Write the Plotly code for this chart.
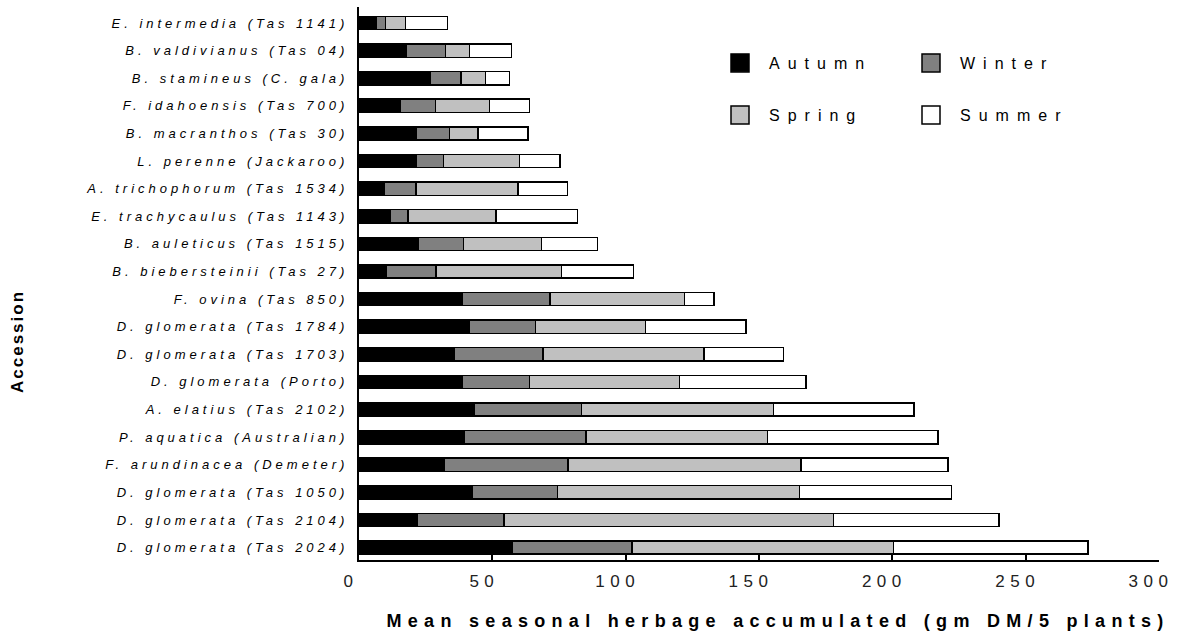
import plotly.graph_objects as go

# Accessions, listed top to bottom as in the chart
accessions = [
    "E. intermedia (Tas 1141)",
    "B. valdivianus (Tas 04)",
    "B. stamineus (C. gala)",
    "F. idahoensis (Tas 700)",
    "B. macranthos (Tas 30)",
    "L. perenne (Jackaroo)",
    "A. trichophorum (Tas 1534)",
    "E. trachycaulus (Tas 1143)",
    "B. auleticus (Tas 1515)",
    "B. biebersteinii (Tas 27)",
    "F. ovina (Tas 850)",
    "D. glomerata (Tas 1784)",
    "D. glomerata (Tas 1703)",
    "D. glomerata (Porto)",
    "A. elatius (Tas 2102)",
    "P. aquatica (Australian)",
    "F. arundinacea (Demeter)",
    "D. glomerata (Tas 1050)",
    "D. glomerata (Tas 2104)",
    "D. glomerata (Tas 2024)",
]

autumn = [6.3, 17.7, 26.8, 15.4, 21.4, 21.4, 9.5, 11.7, 22.1, 10.2,
          38.6, 41.5, 35.8, 38.9, 43.2, 39.3, 32.0, 42.6, 21.7, 57.6]
winter = [3.6, 14.7, 11.5, 13.2, 12.5, 10.3, 11.8, 6.6, 17.1, 18.7,
          33.0, 24.7, 33.2, 25.1, 40.2, 45.8, 46.4, 31.9, 32.6, 44.8]
spring = [7.5, 9.1, 9.2, 20.4, 10.8, 28.4, 38.3, 33.1, 29.3, 47.0,
          50.5, 41.3, 60.3, 56.2, 72.1, 68.1, 87.4, 90.6, 123.7, 98.1]
summer = [15.8, 15.6, 8.9, 15.0, 18.6, 15.3, 18.6, 30.6, 21.0, 27.1,
          11.0, 37.6, 29.9, 47.4, 52.6, 63.9, 55.1, 57.0, 62.0, 72.8]

season_names = ["Autumn", "Winter", "Spring", "Summer"]
season_values = [autumn, winter, spring, summer]
season_colors = ["#000000", "#808080", "#c0c0c0", "#ffffff"]
legend_ids = ["legend", "legend2", "legend3", "legend4"]

x_ticks = [0, 50, 100, 150, 200, 250, 300]
x_title = "Mean seasonal herbage accumulated (gm DM/5 plants)"
y_title = "Accession"

FONT = "Liberation Sans, Arial, sans-serif"

fig = go.Figure()
for name, vals, col, lg in zip(season_names, season_values, season_colors, legend_ids):
    fig.add_trace(go.Bar(
        y=accessions, x=vals, name=name, orientation="h",
        marker=dict(color=col, line=dict(color="#000000", width=1.5)),
        width=0.48, legend=lg, showlegend=True,
    ))

# plot area in pixels: x 359..1159.5, y 7..560
L, R, T, B = 359, 27, 7, 75
W, H = 1186, 635
pw, ph = W - L - R, H - T - B

def px_x(p):
    return (p - L) / pw

def px_y(p):
    return (H - B - p) / ph

leg_font = dict(family=FONT, size=16, color="#000000")
legend_common = dict(bgcolor="rgba(0,0,0,0)", borderwidth=0, font=leg_font,
                     itemwidth=48, xanchor="left", yanchor="middle",
                     orientation="v", visible=True)

fig.update_layout(
    width=W, height=H,
    margin=dict(l=L, r=R, t=T, b=B, pad=0),
    paper_bgcolor="#ffffff", plot_bgcolor="#ffffff",
    barmode="stack", bargap=0.5, showlegend=True,
    font=dict(family=FONT, color="#000000"),
    legend=dict(x=px_x(711), y=px_y(63), **legend_common),
    legend2=dict(x=px_x(902), y=px_y(63), **legend_common),
    legend3=dict(x=px_x(711), y=px_y(115), **legend_common),
    legend4=dict(x=px_x(902), y=px_y(115), **legend_common),
    xaxis=dict(
        range=[0, 300], tickvals=x_ticks, ticktext=[str(v) for v in x_ticks],
        ticks="inside", ticklen=5, tickwidth=1.5, tickcolor="#000000",
        showline=True, linecolor="#000000", linewidth=2,
        showgrid=False, zeroline=False,
        tickfont=dict(family=FONT, size=17, color="#222222"),
        ticklabelstandoff=5, ticklabelshift=-8,
    ),
    yaxis=dict(
        categoryorder="array", categoryarray=accessions[::-1],
        range=[-0.45, 19.58],
        showline=True, linecolor="#000000", linewidth=2,
        ticks="", showgrid=False, zeroline=False,
        tickfont=dict(family=FONT, size=13, color="#000000", style="italic"),
        ticklabelstandoff=6,
    ),
    annotations=[
        dict(text="<b>" + x_title + "</b>", xref="paper", yref="paper",
             x=px_x(778), y=px_y(621), xanchor="center", yanchor="middle",
             showarrow=False, font=dict(family=FONT, size=18, color="#000000")),
        dict(text="<b>" + y_title + "</b>", xref="paper", yref="paper",
             x=px_x(17), y=px_y(342), xanchor="center", yanchor="middle",
             textangle=-90, showarrow=False,
             font=dict(family=FONT, size=17, color="#000000")),
    ],
)

post = """
document.body.style.margin = '0px';
document.body.style.overflow = 'hidden';
var st = document.createElement('style');
st.textContent = ".ytick text{letter-spacing:4px;} " +
  ".xtick text{letter-spacing:5.5px;} " +
  "g.annotation[data-index='0'] text{letter-spacing:6.3px;} " +
  "g.annotation[data-index='1'] text{letter-spacing:2px;} " +
  ".legendpoints path{d:path('M9,9H-9V-9H9Z');}";
document.head.appendChild(st);
var gd = document.getElementById('{plot_id}');
var seasonNames = ['Autumn', 'Winter', 'Spring', 'Summer'];
function fixLegend() {
  gd.querySelectorAll('text').forEach(function(t) {
    if (seasonNames.indexOf((t.textContent || '').trim()) >= 0) {
      t.style.setProperty('letter-spacing', '8px', 'important');
    }
  });
  gd.querySelectorAll('[clip-path]').forEach(function(e) {
    var par = e.parentNode;
    var inLegend = false;
    while (par && par !== gd) {
      if (par.getAttribute && /(^|\\s)legend\\d*(\\s|$)/.test(par.getAttribute('class') || '')) { inLegend = true; break; }
      par = par.parentNode;
    }
    if (inLegend || /(^|\\s)legend\\d*(\\s|$)/.test(e.getAttribute('class') || '')) {
      e.removeAttribute('clip-path');
    }
  });
}
fixLegend();
if (gd.on) { gd.on('plotly_afterplot', fixLegend); }
setTimeout(fixLegend, 20);
setTimeout(fixLegend, 200);
"""

fig.write_html("out.html", post_script=post, config={"displayModeBar": False})
